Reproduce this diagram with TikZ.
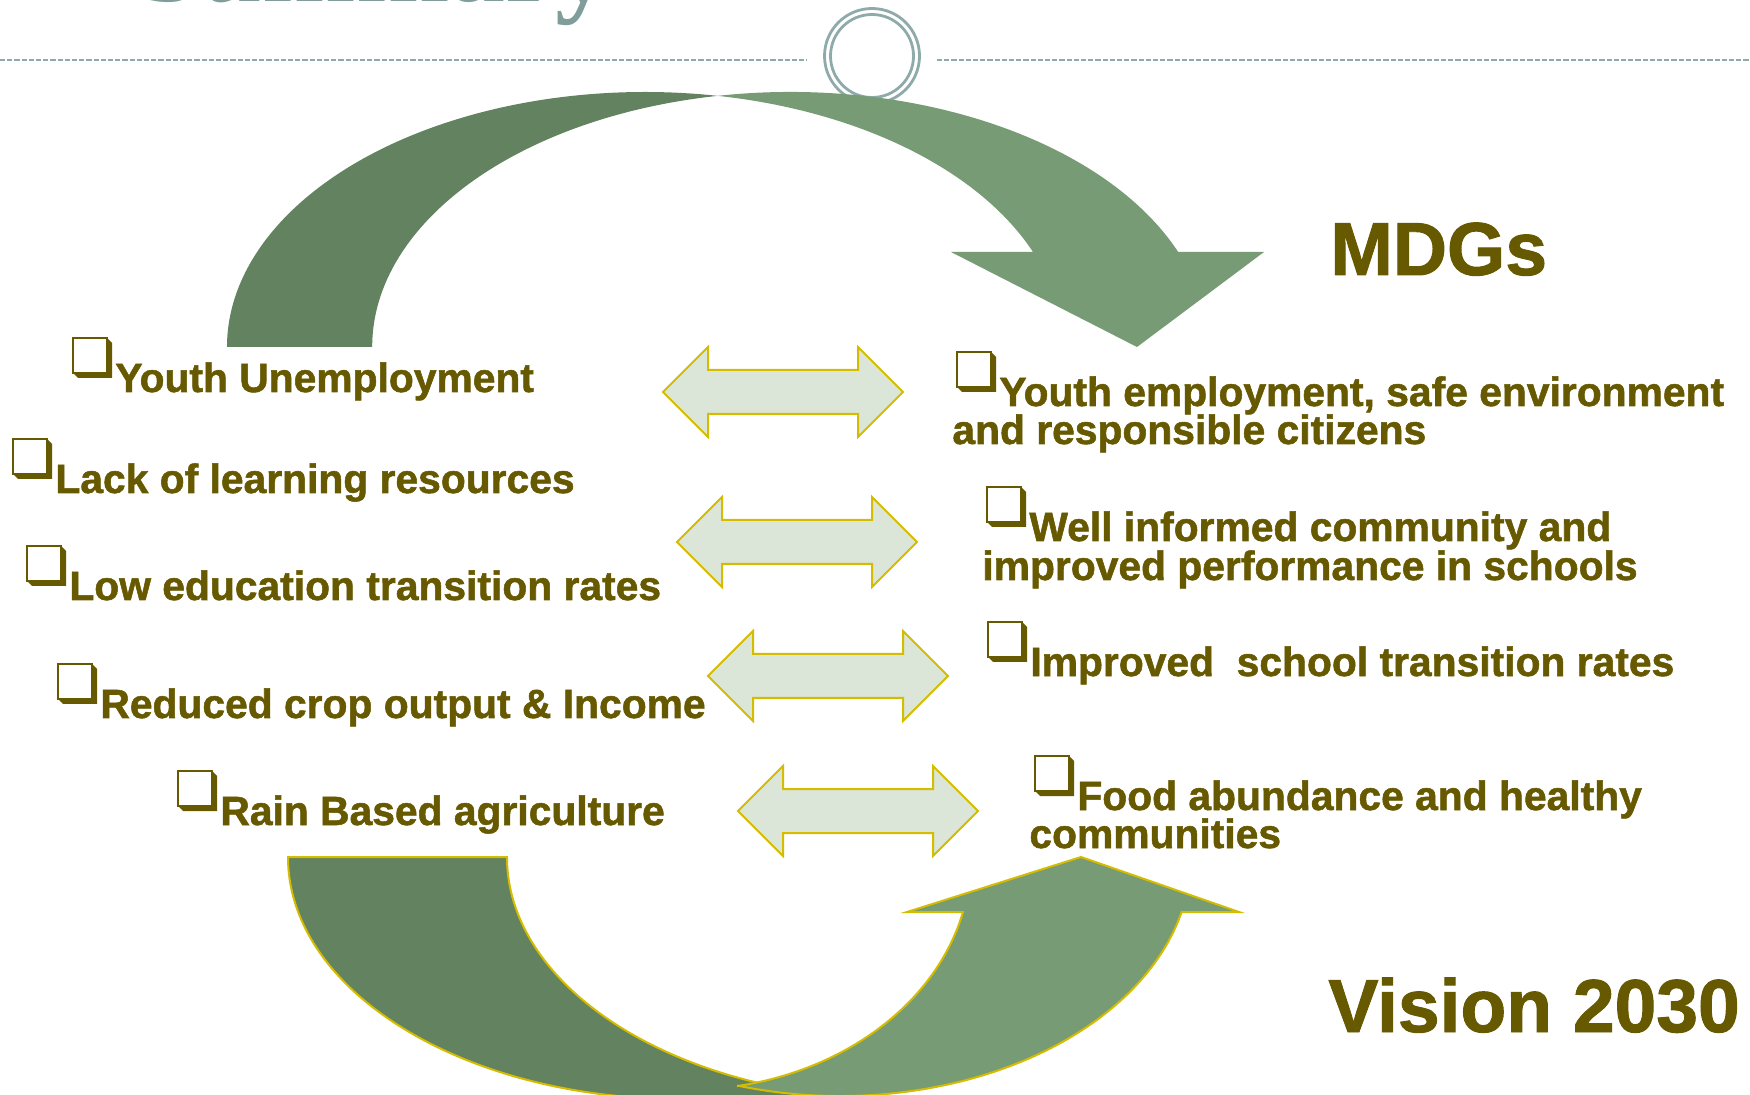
\documentclass[tikz,border=0pt]{standalone}
\usepackage{fontspec}
\setmainfont{Liberation Sans}[BoldFeatures={FakeBold=1.3}]
\newfontfamily\titlefont{Liberation Serif}
\definecolor{txt}{RGB}{102,89,0}
\definecolor{ttl}{RGB}{127,157,155}
\definecolor{ringc}{RGB}{143,170,170}
\definecolor{dkg}{RGB}{98,130,96}
\definecolor{ltg}{RGB}{119,155,116}
\definecolor{arrfill}{RGB}{220,230,216}
\definecolor{arrline}{RGB}{212,188,0}
\newcommand\chkbox[1]{%
  \fill[txt] ([shift={(34,0)}]#1) -- ++(5,5) -- ++(0,35) -- ++(-34,0) -- ++(-5,-5) -- ++(34,0) -- cycle;
  \draw[txt, line width=1pt, fill=white] (#1) rectangle ++(34,35);
}
\begin{document}
\begin{tikzpicture}[x=0.5pt,y=-0.5pt,
  item/.style={anchor=base west, inner sep=0pt, text=txt, font=\fontsize{20.4pt}{24pt}\selectfont\bfseries},
  big/.style={anchor=base west, inner sep=0pt, text=txt, font=\fontsize{37.5pt}{44pt}\selectfont\bfseries},
  dblarr/.style={fill=arrfill, draw=arrline, line width=1pt, line join=miter},
  ringline/.style={draw=ringc, line width=1.4pt}]
\clip (0,0) rectangle (1750,1095);
\fill[white] (0,0) rectangle (1750,1095);

% title (cut off at top, as in the original slide)
\node[anchor=base west, inner sep=0pt, text=ttl, font=\titlefont\fontsize{56pt}{64pt}\selectfont\bfseries] (title) at (138,2) {Summary};

% dashed rule and ring ornament
\draw[draw=ringc, line width=0.7pt, dash pattern=on 2.6pt off 1pt] (0,60) -- (807,60);
\draw[draw=ringc, line width=0.7pt, dash pattern=on 2.6pt off 1pt] (937,60) -- (1750,60);
\draw[ringline, fill=white] (872,56) circle[radius=47.5];
\draw[ringline] (872,56) circle[radius=41.5];

% top curved arrow
\fill[dkg] (227,347) arc[start angle=180, end angle=280, x radius=418, y radius=255]
  arc[start angle=260, end angle=180, x radius=418, y radius=255] -- cycle;
\fill[ltg] (1033,252) arc[start angle=338.13, end angle=280, x radius=418, y radius=255]
  arc[start angle=260, end angle=338.13, x radius=418, y radius=255]
  -- (1264,252) -- (1137,347) -- (951,252) -- cycle;

% bottom curved arrow
\filldraw[fill=dkg, draw=arrline, line width=1pt] (288,857)
  arc[start angle=180, end angle=90, x radius=392, y radius=242]
  -- (851.2,1097.2)
  arc[start angle=97, end angle=180, x radius=392, y radius=242] -- cycle;
\filldraw[fill=ltg, draw=arrline, line width=1pt] (738,1085.7)
  arc[start angle=106.9, end angle=13.3, x radius=351, y radius=239]
  -- (1239,912) -- (1081,857) -- (907,912) -- (963,912)
  arc[start angle=13.46, end angle=79.3, x radius=286, y radius=232] -- cycle;

% double arrows
\foreach \x/\y [count=\i] in {663/392,677/542,708/676,738/811}{
  \coordinate (da\i) at (\x,\y);
  \path[dblarr] (da\i) -- ++(45,-45) -- ++(0,23) -- ++(150,0) -- ++(0,-23) -- ++(45,45)
    -- ++(-45,45) -- ++(0,-23) -- ++(-150,0) -- ++(0,23) -- cycle;
}

% left items
\node[item] (l1) at (115,392) {Youth Unemployment};
\node[item] (l2) at (55,493) {Lack of learning resources};
\node[item] (l3) at (69,600) {Low education transition rates};
\node[item] (l4) at (100,718) {Reduced crop output \& Income};
\node[item] (l5) at (220,825) {Rain Based agriculture};

% right items
\node[item] (r1) at (999,406) {Youth employment, safe environment};
\node[item] (r1b) at (952,444) {and responsible citizens};
\node[item] (r2) at (1029,541) {Well informed community and};
\node[item] (r2b) at (982,580) {improved performance in schools};
\node[item] (r3) at (1030,676) {Improved\ \ school transition rates};
\node[item] (r4) at (1077,810) {Food abundance and healthy};
\node[item] (r4b) at (1029,848) {communities};

\foreach \n in {l1,l2,l3,l4,l5,r1,r2,r3,r4}{
  \coordinate (\n box) at ([shift={(-42,-54)}]\n.base west);
  \chkbox{\n box}
}

\node[big] (mdgs) at (1330,275) {MDGs};
\node[big] (vision) at (1328,1032) {Vision 2030};
\end{tikzpicture}
\end{document}
